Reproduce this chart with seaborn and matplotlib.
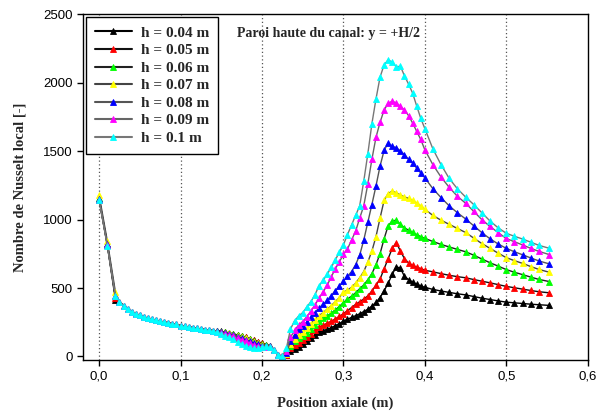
import matplotlib
matplotlib.use("Agg")
import matplotlib.pyplot as plt
from matplotlib.ticker import FuncFormatter
import seaborn as sns

# Position axiale (m) - entrée, partie commune, puis aval
x_tete = [0.0, 0.01, 0.02]
x_commun = [0.025, 0.03, 0.035, 0.04, 0.045, 0.05, 0.055, 0.06, 0.065, 0.07,
            0.075, 0.08, 0.085, 0.09, 0.095, 0.10, 0.105, 0.11, 0.115, 0.12,
            0.125, 0.13, 0.135, 0.14]
x_aval = [0.145, 0.15, 0.155, 0.16, 0.165, 0.17, 0.175, 0.18, 0.185, 0.19,
          0.195, 0.20, 0.205, 0.21, 0.215, 0.22, 0.225, 0.23, 0.235, 0.24,
          0.245, 0.25, 0.255, 0.26, 0.265, 0.27, 0.275, 0.28, 0.285, 0.29,
          0.295, 0.30, 0.305, 0.31, 0.315, 0.32, 0.325, 0.33, 0.335, 0.34,
          0.345, 0.35, 0.355, 0.36, 0.365, 0.37, 0.375, 0.38, 0.385, 0.39,
          0.395, 0.40, 0.41, 0.42, 0.43, 0.44, 0.45, 0.46, 0.47, 0.48,
          0.49, 0.50, 0.51, 0.52, 0.53, 0.54, 0.553]

# Nusselt commun a toutes les hauteurs (zone d'entree)
nu_commun = [400, 370, 345, 327, 312, 300, 289, 279, 271, 264,
             257, 251, 245, 239, 234, 226, 220, 215, 210, 205,
             200, 196, 192, 189]

# valeurs de tete (x = 0, 0.01, 0.02)
tete_004 = [1145, 815, 415]
tete_005 = [1150, 820, 430]
tete_006 = [1155, 825, 440]
tete_007 = [1178, 845, 470]
tete_008 = [1150, 820, 445]
tete_009 = [1145, 815, 440]
tete_010 = [1140, 810, 440]

# valeurs aval (x_aval)
aval_004 = [187, 183, 178, 172, 165, 157, 150, 141, 130, 119, 108, 97, 87, 78, 48, 12, 0,
            8, 40, 58, 72, 92, 112, 135, 158, 176, 188, 198, 210, 225, 240, 258, 272,
            285, 298, 312, 328, 345, 368, 395, 430, 480, 535, 600, 655, 645, 585, 562,
            543, 528, 515, 505,
            490, 478, 468, 458, 450, 438, 426, 416, 406, 397, 392, 387, 382, 378, 373]
aval_005 = [187, 182, 177, 171, 164, 156, 148, 139, 128, 117, 106, 95, 86, 78, 48, 12, 0,
            10, 60, 85, 102, 118, 140, 165, 190, 213, 228, 242, 257, 273, 292, 312, 335,
            357, 380, 400, 420, 442, 478, 520, 565, 640, 715, 790, 832, 770, 715, 683,
            665, 652, 642, 630,
            618, 605, 593, 583, 575, 562, 550, 538, 525, 512, 502, 492, 482, 473, 465]
aval_006 = [186, 181, 176, 170, 163, 155, 146, 136, 125, 113, 101, 90, 82, 77, 48, 12, 0,
            15, 75, 110, 135, 148, 170, 200, 230, 260, 278, 295, 315, 340, 365, 392, 420,
            440, 465, 495, 522, 560, 605, 670, 750, 860, 955, 990, 995, 965, 940, 922,
            906, 890, 875, 862,
            840, 818, 800, 782, 765, 740, 712, 685, 660, 635, 615, 598, 580, 563, 547]
aval_007 = [186, 181, 175, 168, 160, 152, 143, 132, 120, 107, 95, 85, 80, 76, 48, 12, 0,
            20, 90, 130, 160, 182, 210, 240, 270, 298, 320, 345, 370, 400, 430, 470, 485,
            505, 535, 575, 620, 690, 770, 875, 1010, 1140, 1190, 1208, 1195, 1180, 1165, 1155,
            1140, 1120, 1100, 1075,
            1030, 995, 965, 935, 906, 865, 825, 790, 755, 722, 700, 680, 657, 636, 615]
aval_008 = [184, 178, 171, 163, 154, 144, 134, 123, 111, 99, 88, 80, 76, 74, 47, 11, 0,
            25, 110, 160, 200, 220, 250, 285, 320, 355, 380, 410, 445, 480, 515, 550, 585,
            620, 670, 740, 850, 980, 1110, 1245, 1390, 1505, 1560, 1535, 1525, 1500, 1475, 1440,
            1415, 1375, 1340, 1305,
            1225, 1160, 1100, 1050, 1005, 955, 905, 860, 822, 790, 765, 743, 720, 698, 676]
aval_009 = [182, 174, 165, 156, 146, 135, 123, 111, 98, 86, 76, 71, 72, 72, 46, 11, 0,
            40, 140, 190, 230, 255, 290, 330, 375, 425, 470, 520, 580, 640, 690, 745, 785,
            850, 915, 1010, 1100, 1260, 1440, 1600, 1710, 1800, 1850, 1863, 1852, 1826, 1800, 1760,
            1705, 1645, 1585, 1510,
            1400, 1310, 1235, 1170, 1120, 1060, 1000, 950, 905, 862, 838, 815, 790, 768, 744]
aval_010 = [178, 165, 152, 140, 125, 108, 92, 78, 66, 60, 62, 68, 74, 72, 45, 10, 0,
            60, 200, 260, 295, 320, 360, 400, 450, 515, 555, 600, 650, 705, 760, 815, 890,
            960, 1030, 1100, 1280, 1480, 1700, 1880, 2040, 2130, 2166, 2150, 2115, 2120, 2050, 1990,
            1924, 1830, 1740, 1665,
            1515, 1400, 1300, 1225, 1165, 1110, 1050, 990, 940, 900, 878, 858, 835, 812, 790]

labels = ["h = 0.04 m", "h = 0.05 m", "h = 0.06 m", "h = 0.07 m",
          "h = 0.08 m", "h = 0.09 m", "h = 0.1 m"]
tetes = [tete_004, tete_005, tete_006, tete_007, tete_008, tete_009, tete_010]
avals = [aval_004, aval_005, aval_006, aval_007, aval_008, aval_009, aval_010]
marker_colors = ["black", "red", "#00ff00", "yellow", "blue", "magenta", "cyan"]
line_colors = ["black", "#111111", "#222222", "#444444", "#555555", "#666666", "#777777"]

sns.set_style("ticks")
plt.rcParams["font.family"] = ["Liberation Sans", "DejaVu Sans"]

fig, ax = plt.subplots(figsize=(5.96, 4.18), dpi=100)
fig.subplots_adjust(left=0.139, right=0.986, bottom=0.139, top=0.966)

x_all = x_tete + x_commun + x_aval
for lab, tete, aval, mc, lc in zip(labels, tetes, avals, marker_colors, line_colors):
    y_all = tete + nu_commun + aval
    sns.lineplot(x=x_all, y=y_all, ax=ax, sort=False, estimator=None,
                 color=lc, linewidth=1.0, marker="^", markersize=5,
                 markerfacecolor=mc, markeredgecolor=mc, markeredgewidth=0.6,
                 label=lab)

ax.set_xlim(-0.02, 0.6)
ax.set_ylim(-25, 2500)
ax.set_xticks([0.0, 0.1, 0.2, 0.3, 0.4, 0.5, 0.6])
ax.set_yticks([0, 500, 1000, 1500, 2000, 2500])
ax.xaxis.set_major_formatter(FuncFormatter(lambda v, p: f"{v:.1f}".replace(".", ",")))

for gx in [0.0, 0.1, 0.2, 0.3, 0.4, 0.5]:
    ax.axvline(gx, color="#555555", linestyle=(0, (1, 2)), linewidth=0.9, zorder=0)

for side in ["top", "right", "left", "bottom"]:
    ax.spines[side].set_visible(True)
    ax.spines[side].set_color("black")
    ax.spines[side].set_linewidth(1.0)
ax.tick_params(axis="both", direction="out", length=4, width=1, labelsize=9.5,
               colors="black", top=False, right=False)

serif_bold = dict(family=["Liberation Serif", "DejaVu Serif"], weight="bold")
ax.set_xlabel("Position axiale (m)", fontsize=10.5, labelpad=10, **serif_bold)
ax.set_ylabel("Nombre de Nusselt local [-]", fontsize=10.5, labelpad=12, **serif_bold)

ax.text(0.305, 0.945, "Paroi haute du canal: y = +H/2", transform=ax.transAxes,
        ha="left", va="center", fontsize=10, **serif_bold)

leg = ax.legend(loc="upper left", bbox_to_anchor=(0.006, 0.992), borderaxespad=0,
                frameon=True, fancybox=False, framealpha=1, edgecolor="black",
                prop=dict(family=["Liberation Serif", "DejaVu Serif"], weight="bold", size=11),
                handlelength=2.4, labelspacing=0.25, borderpad=0.6, handletextpad=0.6)
leg.get_frame().set_linewidth(1.0)
for h in leg.legend_handles:
    h.set_linewidth(1.5)

fig.savefig("out.png", dpi=100)
